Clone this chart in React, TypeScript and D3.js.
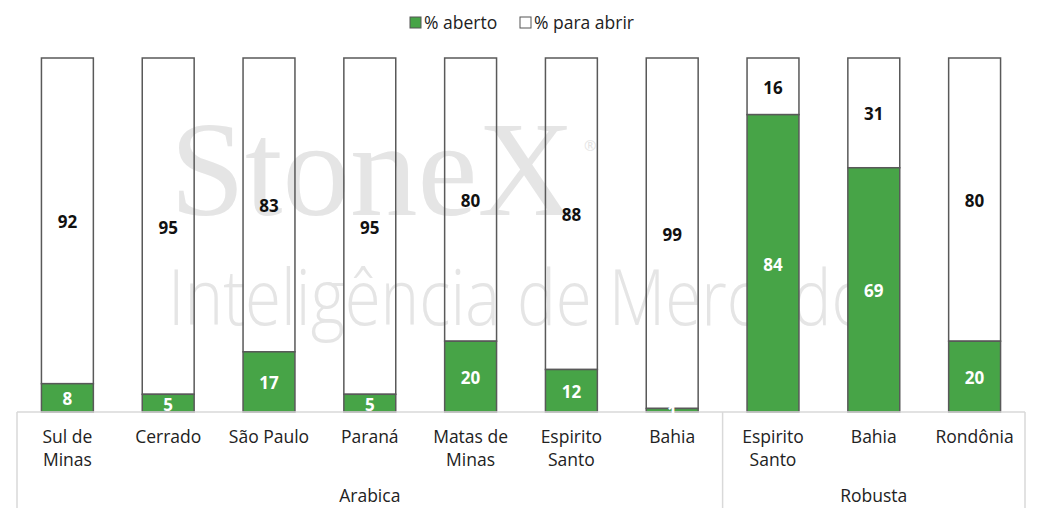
import React from "react";
import * as d3 from "d3";

const categories = ["Sul de Minas", "Cerrado", "São Paulo", "Paraná", "Matas de Minas", "Espirito Santo", "Bahia", "Espirito Santo", "Bahia", "Rondônia"];
const categoryLines = [["Sul de", "Minas"], ["Cerrado"], ["São Paulo"], ["Paraná"], ["Matas de", "Minas"], ["Espirito", "Santo"], ["Bahia"], ["Espirito", "Santo"], ["Bahia"], ["Rondônia"]];
const groups = [
  { name: "Arabica", start: 0, end: 6 },
  { name: "Robusta", start: 7, end: 9 },
];
const aberto = [8, 5, 17, 5, 20, 12, 1, 84, 69, 20];
const paraAbrir = [92, 95, 83, 95, 80, 88, 99, 16, 31, 80];
const seriesNames = ["% aberto", "% para abrir"];

const W = 1042;
const H = 516;
const GREEN = "#47a447";
const FONT = "'Open Sans', 'Noto Sans', sans-serif";

export default function App() {
  const plotLeft = 17;
  const plotRight = 1025;
  const yTop = 58;
  const yBottom = 412;
  const x = d3.scaleBand<number>().domain(d3.range(categories.length)).range([plotLeft, plotRight]).paddingInner(0.485).paddingOuter(0.2425);
  const y = d3.scaleLinear().domain([0, 100]).range([yBottom, yTop]);
  const bw = x.bandwidth();
  const step = x.step();
  const boundary = (i: number) => (x(i) as number) - (step - bw) / 2;

  return (
    <svg width={W} height={H} style={{ position: "fixed", left: 0, top: 0, background: "#fff" }} fontFamily={FONT}>
      {/* watermark */}
      <g fill="#e5e5e5">
        <text x={170} y={215} fontFamily="'Liberation Serif', 'DejaVu Serif', serif" fontSize={136} textLength={405} lengthAdjust="spacingAndGlyphs">StoneX</text>
        <text x={584} y={151} fontFamily={FONT} fontSize={15}>®</text>
        <text x={168} y={325} fontFamily="'Open Sans', Lato, sans-serif" fontWeight={300} fontSize={78} textLength={702} lengthAdjust="spacingAndGlyphs">Inteligência de Mercado</text>
      </g>

      {/* legend */}
      <g fontSize={17.5} fill="#222">
        <rect x={410} y={17} width={11} height={11} fill={GREEN} stroke="#555" strokeWidth={1} />
        <text x={424} y={29}>{seriesNames[0]}</text>
        <rect x={520} y={17} width={11} height={11} fill="#fff" stroke="#555" strokeWidth={1} />
        <text x={534} y={29}>{seriesNames[1]}</text>
      </g>

      {/* bars */}
      {categories.map((_, i) => {
        const x0 = x(i) as number;
        const a = aberto[i];
        const p = paraAbrir[i];
        return (
          <g key={i}>
            <rect x={x0} y={y(a + p)} width={bw} height={y(a) - y(a + p)} fill="none" stroke="#595959" strokeWidth={1.5} />
            <rect x={x0} y={y(a)} width={bw} height={y(0) - y(a)} fill={GREEN} stroke="#595959" strokeWidth={1.5} />
          </g>
        );
      })}

      {/* axis */}
      <line x1={plotLeft} x2={plotRight} y1={yBottom} y2={yBottom} stroke="#d9d9d9" strokeWidth={1.5} />
      {[0, 7, 10].map((b) => {
        const bx = b === 0 ? plotLeft : b === 10 ? plotRight : boundary(b);
        return <line key={b} x1={bx} x2={bx} y1={yBottom} y2={508} stroke="#d9d9d9" strokeWidth={1.5} />;
      })}

      {/* value labels */}
      {categories.map((_, i) => {
        const cx = (x(i) as number) + bw / 2;
        const a = aberto[i];
        const p = paraAbrir[i];
        return (
          <g key={"l" + i} fontSize={17} fontWeight={700} textAnchor="middle" dominantBaseline="central">
            <text x={cx} y={(y(a) + y(0)) / 2 + 1} fill="#fff">{a}</text>
            <text x={cx} y={(y(a + p) + y(a)) / 2 + 1} fill="#111">{p}</text>
          </g>
        );
      })}

      {/* category labels */}
      {categoryLines.map((lines, i) => {
        const cx = (x(i) as number) + bw / 2;
        return (
          <text key={"c" + i} x={cx} y={443} fontSize={17.5} fill="#222" textAnchor="middle">
            {lines.map((ln, k) => (
              <tspan key={k} x={cx} dy={k === 0 ? 0 : 23}>{ln}</tspan>
            ))}
          </text>
        );
      })}

      {/* group labels */}
      {groups.map((g) => {
        const left = g.start === 0 ? plotLeft : boundary(g.start);
        const right = g.end === categories.length - 1 ? plotRight : boundary(g.end + 1);
        return (
          <text key={g.name} x={(left + right) / 2} y={502} fontSize={17.5} fill="#222" textAnchor="middle">{g.name}</text>
        );
      })}
    </svg>
  );
}
